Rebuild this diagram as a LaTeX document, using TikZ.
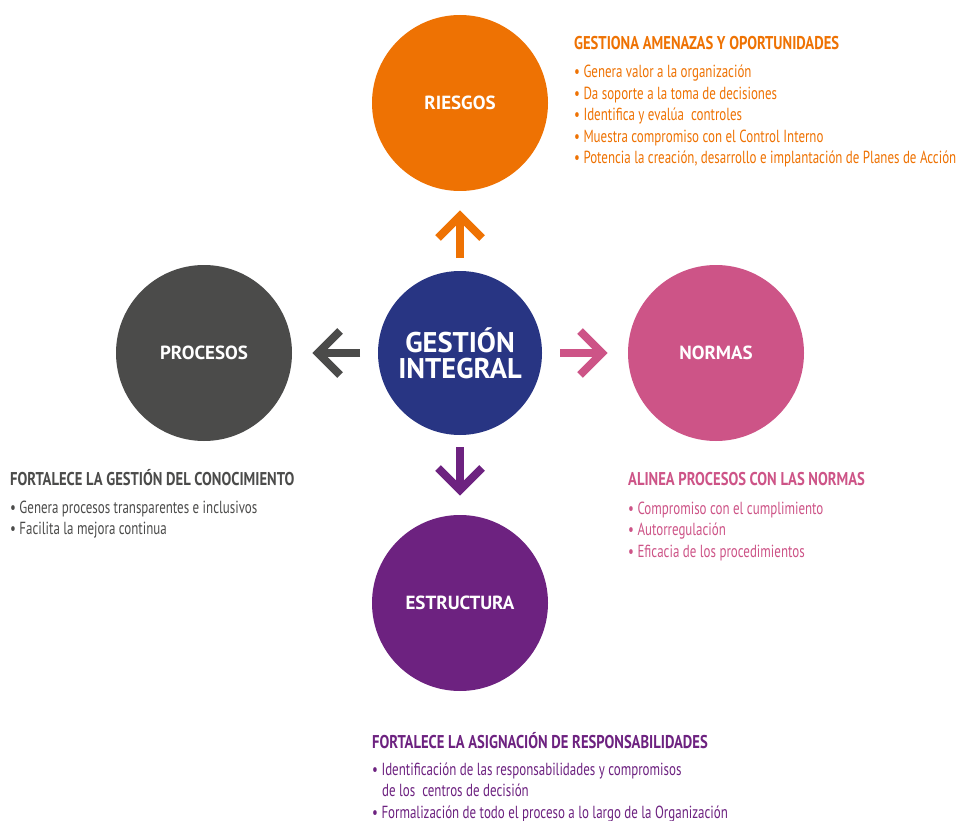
\documentclass[tikz,border=0pt]{standalone}
\usepackage{fontspec}
\setmainfont{PT Sans}
\newfontfamily\condf[FakeStretch=0.74]{PT Sans}
\newfontfamily\ttlf[FakeStretch=0.79]{PT Sans}
\newfontfamily\circf{PT Sans}
\usetikzlibrary{calc}
\definecolor{cOr}{RGB}{238,114,3}
\definecolor{cGr}{RGB}{75,75,74}
\definecolor{cPk}{RGB}{205,84,135}
\definecolor{cPu}{RGB}{109,34,128}
\definecolor{cNv}{RGB}{40,53,131}
\tikzset{
  blob/.style={circle, inner sep=0pt, minimum size=176pt, text=white,
    font=\circf\bfseries\fontsize{19}{19}\selectfont},
  ttl/.style={anchor=base west, inner sep=0pt, font=\ttlf\bfseries\fontsize{18.5}{18.5}\selectfont},
  itm/.style={anchor=base west, inner sep=0pt, font=\condf\fontsize{17.5}{17.5}\selectfont},
  arr/.style={line width=8pt, line join=miter},
}
\begin{document}
\begin{tikzpicture}[x=1pt,y=-1pt]
\useasboundingbox (0,0) rectangle (961,821);
% circles
\node[blob, fill=cNv, minimum size=164pt, font=\circf\bfseries\fontsize{28.5}{26}\selectfont, align=center] (g) at (460,353) {GESTIÓN\\INTEGRAL};
\node[blob, fill=cOr] (r) at (460,103) {RIESGOS};
\node[blob, fill=cGr] (p) at (204,353) {PROCESOS};
\node[blob, fill=cPk] (n) at (716,353) {NORMAS};
\node[blob, fill=cPu] (e) at (460,603) {ESTRUCTURA};
% arrow coordinates
\coordinate (ut) at (460,216); \coordinate (ub) at (460,258);
\coordinate (dt) at (460,490); \coordinate (db) at (460,447);
\coordinate (lt) at (318,353); \coordinate (lb) at (360,353);
\coordinate (rt) at (602,353); \coordinate (rb) at (560,353);
\draw[arr, cOr] (ub) -- (ut);
\draw[arr, cOr] ($(ut)+(-22,22)$) -- (ut) -- ($(ut)+(22,22)$);
\draw[arr, cPu] (db) -- (dt);
\draw[arr, cPu] ($(dt)+(-22,-22)$) -- (dt) -- ($(dt)+(22,-22)$);
\draw[arr, cGr] (lb) -- (lt);
\draw[arr, cGr] ($(lt)+(22,-22)$) -- (lt) -- ($(lt)+(22,22)$);
\draw[arr, cPk] (rb) -- (rt);
\draw[arr, cPk] ($(rt)+(-22,-22)$) -- (rt) -- ($(rt)+(-22,22)$);
% orange text
\node[ttl, text=cOr] (rt0) at (574,50) {GESTIONA AMENAZAS Y OPORTUNIDADES};
\node[itm, text=cOr] (rt1) at (574,78) {• Genera valor a la organización};
\node[itm, text=cOr] (rt2) at (574,99.5) {• Da soporte a la toma de decisiones};
\node[itm, text=cOr] (rt3) at (574,121) {• Identifica y evalúa\ \ controles};
\node[itm, text=cOr] (rt4) at (574,142.5) {• Muestra compromiso con el Control Interno};
\node[itm, text=cOr] (rt5) at (574,164) {• Potencia la creación, desarrollo e implantación de Planes de Acción};
% gray text
\node[ttl, text=cGr] (pt0) at (10,485) {FORTALECE LA GESTIÓN DEL CONOCIMIENTO};
\node[itm, text=cGr] (pt1) at (10,513) {• Genera procesos transparentes e inclusivos};
\node[itm, text=cGr] (pt2) at (10,534.5) {• Facilita la mejora continua};
% pink text
\node[ttl, text=cPk] (nt0) at (628,485) {ALINEA PROCESOS CON LAS NORMAS};
\node[itm, text=cPk] (nt1) at (628,514) {• Compromiso con el cumplimiento};
\node[itm, text=cPk] (nt2) at (628,535.5) {• Autorregulación};
\node[itm, text=cPk] (nt3) at (628,557) {• Eficacia de los procedimientos};
% purple text
\node[ttl, text=cPu] (et0) at (372,748) {FORTALECE LA ASIGNACIÓN DE RESPONSABILIDADES};
\node[itm, text=cPu] (et1) at (372,775) {• Identificación de las responsabilidades y compromisos};
\node[itm, text=cPu] (et2) at (382,796.5) {de los\ \ centros de decisión};
\node[itm, text=cPu] (et3) at (372,818) {• Formalización de todo el proceso a lo largo de la Organización};
\end{tikzpicture}
\end{document}
